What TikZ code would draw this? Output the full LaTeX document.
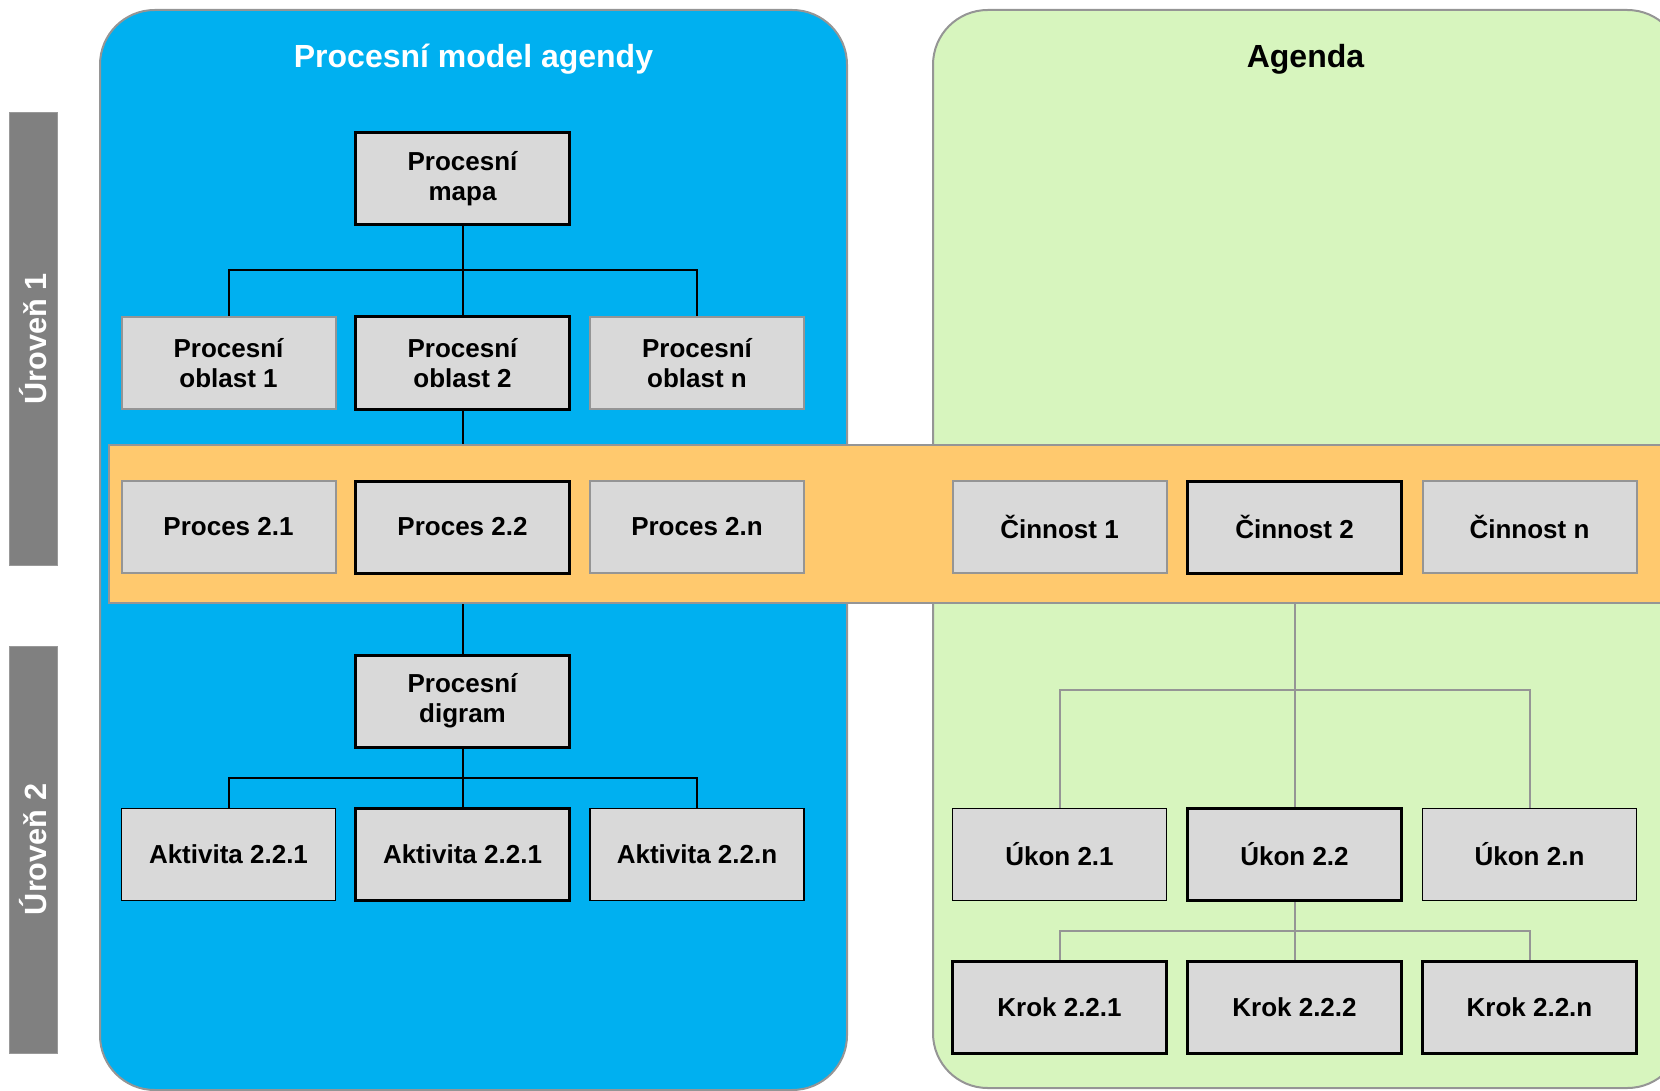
\documentclass[tikz,border=0pt]{standalone}
\usepackage{fontspec}
\setmainfont{Liberation Sans}
\definecolor{bluepanel}{HTML}{00B0F0}
\definecolor{greenpanel}{HTML}{D7F5BE}
\definecolor{bandfill}{HTML}{FFC96E}
\definecolor{boxfill}{HTML}{D9D9D9}
\definecolor{bordergray}{HTML}{959595}
\definecolor{bargray}{HTML}{808080}
\pgfdeclarelayer{bg}
\pgfdeclarelayer{lines}
\pgfdeclarelayer{band}
\pgfsetlayers{bg,lines,band,main}
\begin{document}
\begin{tikzpicture}[x=0.75pt,y=-0.75pt,
  box/.style={fill=boxfill, minimum width=160.5pt, minimum height=69pt, inner sep=0pt,
    font=\bfseries\fontsize{19.5}{22.5}\selectfont, align=center},
  thickbox/.style={box, draw=black, line width=2.25pt},
  thinbox/.style={box, draw=black, line width=1.1pt},
  graybox/.style={box, draw=bordergray, line width=1.5pt},
  blackline/.style={draw=black, line width=1.5pt},
  grayline/.style={draw=bordergray, line width=1.5pt},
  panel/.style={draw=bordergray, line width=1.5pt, rounded corners=41pt},
  bar/.style={fill=bargray, draw=bargray!80!white, line width=0.75pt},
  bartext/.style={text=white, font=\bfseries\fontsize{23}{26}\selectfont, rotate=90},
  titletext/.style={font=\bfseries\fontsize{24}{28}\selectfont, anchor=base}]
\clip (0,0) rectangle (1660,1091);
% panels
\begin{pgfonlayer}{bg}
\draw[panel, fill=bluepanel] (100,10) rectangle (847,1090);
\draw[panel, fill=greenpanel] (933,10) rectangle (1682,1088);
\end{pgfonlayer}
\begin{pgfonlayer}{band}
\draw[fill=bandfill, draw=bordergray, line width=1.5pt] (109,445) rectangle (1720,603);
\end{pgfonlayer}
% titles
\node[titletext, text=white] (t1) at (473.5,68) {Procesní model agendy};
\node[titletext, text=black] (t2) at (1305.5,68) {Agenda};
% level bars
\draw[bar] (9,113) rectangle (57,565);
\node[bartext] (lvl1) at (33,339) {Úroveň 1};
\draw[bar] (9,646) rectangle (57,1053);
\node[bartext] (lvl2) at (33,849.5) {Úroveň 2};
% left tree
\node[thickbox] (mapa) at (462.5,179) {Procesní\\mapa};
\node[graybox] (o1) at (228.5,363) {Procesní\\oblast 1};
\node[thickbox] (o2) at (462.5,363) {Procesní\\oblast 2};
\node[graybox] (o3) at (697,363) {Procesní\\oblast n};
\node[graybox] (p1) at (228.5,527) {Proces 2.1};
\node[thickbox] (p2) at (462.5,527) {Proces 2.2};
\node[graybox] (p3) at (697,527) {Proces 2.n};
\node[thickbox] (dg) at (462.5,701) {Procesní\\digram};
\node[thinbox] (a1) at (228.5,854.5) {Aktivita 2.2.1};
\node[thickbox] (a2) at (462.5,854.5) {Aktivita 2.2.1};
\node[thinbox] (a3) at (697,854.5) {Aktivita 2.2.n};
% right tree
\node[graybox] (c1) at (1059.5,527) {Činnost 1};
\node[thickbox] (c2) at (1294.5,527) {Činnost 2};
\node[graybox] (c3) at (1529.5,527) {Činnost n};
\node[thinbox] (u1) at (1059.5,854.5) {Úkon 2.1};
\node[thickbox] (u2) at (1294.5,854.5) {Úkon 2.2};
\node[thinbox] (u3) at (1529.5,854.5) {Úkon 2.n};
\node[thickbox] (k1) at (1059.5,1007.5) {Krok 2.2.1};
\node[thickbox] (k2) at (1294.5,1007.5) {Krok 2.2.2};
\node[thickbox] (k3) at (1529.5,1007.5) {Krok 2.2.n};
% junction levels
\coordinate (j1) at (0,270);
\coordinate (j2) at (0,778);
\coordinate (j3) at (0,690);
\coordinate (j4) at (0,931);
\begin{pgfonlayer}{lines}
\draw[blackline] (mapa.south) -- (o2.north);
\draw[blackline] (o1.north) -- (o1.north |- j1) -- (o3.north |- j1) -- (o3.north);
\draw[blackline] (o2.south) -- (p2.north);
\draw[blackline] (p2.south) -- (dg.north);
\draw[blackline] (dg.south) -- (a2.north);
\draw[blackline] (a1.north) -- (a1.north |- j2) -- (a3.north |- j2) -- (a3.north);
\draw[grayline] (c2.south) -- (u2.north);
\draw[grayline] (u1.north) -- (u1.north |- j3) -- (u3.north |- j3) -- (u3.north);
\draw[grayline] (u2.south) -- (k2.north);
\draw[grayline] (k1.north) -- (k1.north |- j4) -- (k3.north |- j4) -- (k3.north);
\end{pgfonlayer}
\end{tikzpicture}
\end{document}
